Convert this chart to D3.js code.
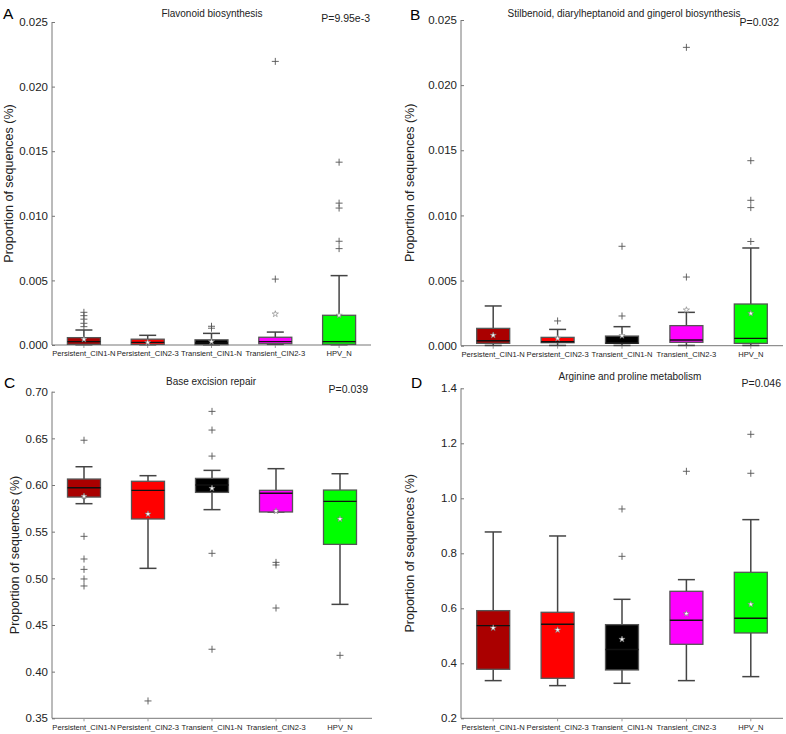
<!DOCTYPE html>
<html><head><meta charset="utf-8">
<script src="https://cdn.jsdelivr.net/npm/d3@7"></script>
<style>body{margin:0;background:#fff}svg{display:block;font-family:"Liberation Sans",Arial,Helvetica,sans-serif}</style>
</head><body>
<svg id="chart" width="786" height="734"></svg>
<script>
const categories = ["Persistent_CIN1-N","Persistent_CIN2-3","Transient_CIN1-N","Transient_CIN2-3","HPV_N"];
const boxColors = ["#aa0000","#ff0000","#000000","#ff00ff","#00ff00"];

// Panel A: Flavonoid biosynthesis
const aTitle = "Flavonoid biosynthesis", aP = "P=9.95e-3";
const aTicks = [0,0.005,0.010,0.015,0.020,0.025];
const aLow = [0.00002,0.00002,0.00002,0.00005,0.00002];
const aQ1 = [0.00005,0.00005,0.00003,0.0001,0.00005];
const aMedian = [0.00026,0.0002,0.00015,0.00026,0.00026];
const aQ3 = [0.00057,0.00045,0.0004,0.0006,0.0023];
const aHigh = [0.00116,0.00075,0.0009,0.001,0.00537];
const aMean = [0.00044,0.0002,0.00026,0.0024,0.0023];
const aOutliers = [[0.00142,0.00168,0.002,0.00227,0.00253],[],[0.0013,0.00145],[0.0051,0.02195],[0.00746,0.00803,0.0106,0.01098,0.01415]];

// Panel B: Stilbenoid, diarylheptanoid and gingerol biosynthesis
const bTitle = "Stilbenoid, diarylheptanoid and gingerol biosynthesis", bP = "P=0.032";
const bTicks = [0,0.005,0.010,0.015,0.020,0.025];
const bLow = [0.00002,0.00002,0.00002,0.00002,0.00002];
const bQ1 = [0.00018,0.00023,0.00018,0.00026,0.00018];
const bMedian = [0.00038,0.0003,0.0002,0.00044,0.00056];
const bQ3 = [0.00133,0.00064,0.00074,0.00154,0.0032];
const bHigh = [0.00305,0.00125,0.00146,0.00256,0.0075];
const bMean = [0.0008,0.00056,0.00077,0.00274,0.00248];
const bOutliers = [[],[0.0019],[0.00228,0.00763],[0.00527,0.0229],[0.008,0.0106,0.01116,0.0142]];

// Panel C: Base excision repair
const cTitle = "Base excision repair", cP = "P=0.039";
const cTicks = [0.35,0.40,0.45,0.50,0.55,0.60,0.65,0.70];
const cLow = [0.58,0.5107,0.5736,0.5711,0.4721];
const cQ1 = [0.5871,0.5636,0.5921,0.5711,0.5364];
const cMedian = [0.5971,0.5943,0.600,0.5911,0.5825];
const cQ3 = [0.6064,0.604,0.6071,0.5943,0.5946];
const cHigh = [0.6196,0.61,0.6157,0.6175,0.6121];
const cMean = [0.5879,0.5689,0.5964,0.5721,0.5636];
const cOutliers = [[0.648,0.545,0.5207,0.5096,0.4993,0.4918],[0.3686],[0.6789,0.6589,0.631,0.5268,0.424],[0.5171,0.5143,0.4682],[0.4175]];

// Panel D: Arginine and proline metabolism
const dTitle = "Arginine and proline metabolism", dP = "P=0.046";
const dTicks = [0.2,0.4,0.6,0.8,1.0,1.2,1.4];
const dLow = [0.337,0.3188,0.3273,0.337,0.3515];
const dQ1 = [0.3782,0.3455,0.3758,0.4691,0.5103];
const dMedian = [0.537,0.5418,0.45,0.5564,0.5636];
const dQ3 = [0.5915,0.5855,0.5406,0.6618,0.7309];
const dHigh = [0.8776,0.863,0.6327,0.7042,0.9224];
const dMean = [0.5285,0.5212,0.4873,0.5806,0.6145];
const dOutliers = [[],[],[0.9612,0.789],[1.0982],[1.2327,1.091]];

const svg = d3.select("#chart");
const yLabel = "Proportion of sequences (%)";

function drawPanel(g) {
  const x = d3.scaleBand().domain(categories).range([g.x0, g.x1]).padding(0);
  const y = d3.scaleLinear().domain([g.ticks[0], g.ticks[g.ticks.length-1]]).range([g.yBot, g.yTop]);
  const root = svg.append("g");
  const bw = 33, cap = 17;

  const yAx = root.append("g").attr("transform", `translate(${g.x0},0)`)
    .call(d3.axisLeft(y).tickValues(g.ticks).tickFormat(d3.format(g.fmt)).tickSize(-3).tickPadding(4));
  yAx.select(".domain").attr("stroke","#777").attr("d", `M0,${g.yTop}V${g.yBot}`);
  yAx.selectAll(".tick line").attr("stroke","#777");
  yAx.selectAll("text").attr("font-size", 11.5).attr("fill","#222").attr("font-family","'Liberation Sans',Arial,sans-serif");

  const xAx = root.append("g").attr("transform", `translate(0,${g.yBot})`)
    .call(d3.axisBottom(x).tickSize(3).tickPadding(3));
  xAx.select(".domain").attr("stroke","#777").attr("d", `M${g.x0},0H${g.x1}`);
  xAx.selectAll(".tick line").attr("stroke","#999");
  xAx.selectAll("text").attr("font-size", 7.6).attr("fill","#222").attr("font-family","'Liberation Sans',Arial,sans-serif");

  categories.forEach((c, i) => {
    const cx = x(c) + x.bandwidth()/2;
    const grp = root.append("g");
    grp.append("line").attr("x1",cx).attr("x2",cx).attr("y1",y(g.high[i])).attr("y2",y(g.q3[i])).attr("stroke","#444").attr("stroke-width",1.5);
    grp.append("line").attr("x1",cx).attr("x2",cx).attr("y1",y(g.low[i])).attr("y2",y(g.q1[i])).attr("stroke","#444").attr("stroke-width",1.5);
    grp.append("line").attr("x1",cx-cap/2).attr("x2",cx+cap/2).attr("y1",y(g.high[i])).attr("y2",y(g.high[i])).attr("stroke","#444").attr("stroke-width",1.5);
    grp.append("line").attr("x1",cx-cap/2).attr("x2",cx+cap/2).attr("y1",y(g.low[i])).attr("y2",y(g.low[i])).attr("stroke","#444").attr("stroke-width",1.5);
    grp.append("rect").attr("x",cx-bw/2).attr("width",bw).attr("y",y(g.q3[i])).attr("height",Math.max(1,y(g.q1[i])-y(g.q3[i])))
      .attr("fill",boxColors[i]).attr("stroke","#555").attr("stroke-width",1.3);
    grp.append("line").attr("x1",cx-bw/2).attr("x2",cx+bw/2).attr("y1",y(g.median[i])).attr("y2",y(g.median[i])).attr("stroke","#111").attr("stroke-width",1.4);
    g.outliers[i].forEach(v => {
      grp.append("path").attr("transform",`translate(${cx},${y(v)})`).attr("d","M-3.5,0H3.5M0,-3.5V3.5").attr("stroke","#555").attr("stroke-width",0.9).attr("fill","none");
    });
    grp.append("path").attr("transform",`translate(${cx},${y(g.mean[i])})`).attr("d", d3.symbol().type(d3.symbolStar).size(12)())
      .attr("fill","#fff").attr("stroke","#777").attr("stroke-width",0.6);
  });

  root.append("text").attr("x",g.titleX).attr("y",g.titleY).attr("text-anchor","middle").attr("font-size",10).attr("fill","#222").text(g.title);
  root.append("text").attr("x",g.pX).attr("y",g.pY).attr("text-anchor","end").attr("font-size",10.5).attr("fill","#222").text(g.p);
  root.append("text").attr("transform",`translate(${g.labX},${(g.yTop+g.yBot)/2}) rotate(-90)`).attr("text-anchor","middle").attr("font-size",12.5).attr("fill","#222").text(yLabel);
  root.append("text").attr("x",g.letterX).attr("y",g.letterY).attr("font-size",15.5).attr("fill","#000").text(g.letter);
}

drawPanel({letter:"A", letterX:3, letterY:19, title:aTitle, p:aP, titleX:212, titleY:17, pX:370, pY:22, labX:12.5,
  x0:52, x1:371, yTop:22, yBot:345, ticks:aTicks, fmt:".3f",
  low:aLow, q1:aQ1, median:aMedian, q3:aQ3, high:aHigh, mean:aMean, outliers:aOutliers});
drawPanel({letter:"B", letterX:410, letterY:20, title:bTitle, p:bP, titleX:624, titleY:17, pX:779, pY:26, labX:413.5,
  x0:461, x1:783, yTop:20, yBot:345.7, ticks:bTicks, fmt:".3f",
  low:bLow, q1:bQ1, median:bMedian, q3:bQ3, high:bHigh, mean:bMean, outliers:bOutliers});
drawPanel({letter:"C", letterX:4, letterY:388, title:cTitle, p:cP, titleX:211, titleY:385, pX:368, pY:393, labX:19,
  x0:52, x1:372, yTop:391.7, yBot:718.3, ticks:cTicks, fmt:".2f",
  low:cLow, q1:cQ1, median:cMedian, q3:cQ3, high:cHigh, mean:cMean, outliers:cOutliers});
drawPanel({letter:"D", letterX:411, letterY:388, title:dTitle, p:dP, titleX:630, titleY:380, pX:781, pY:387, labX:413.5,
  x0:461, x1:783, yTop:388.3, yBot:718.3, ticks:dTicks, fmt:".1f",
  low:dLow, q1:dQ1, median:dMedian, q3:dQ3, high:dHigh, mean:dMean, outliers:dOutliers});
</script>
</body></html>
